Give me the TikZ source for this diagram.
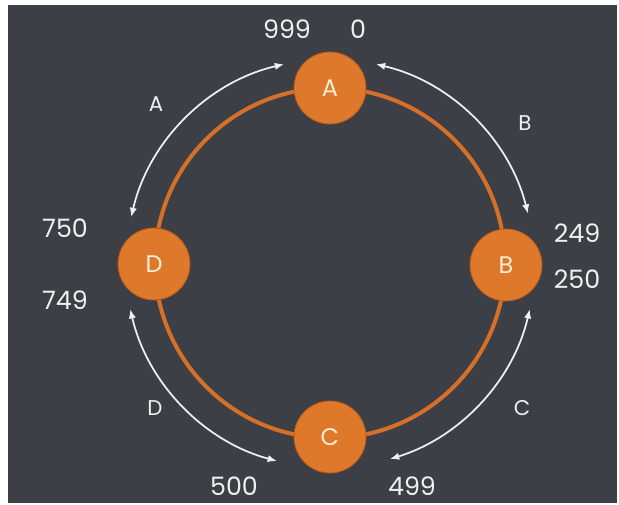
\documentclass[tikz,border=0pt]{standalone}
\usepackage{fontspec}
\setmainfont{Poppins}
\usepackage{tikz}
\usetikzlibrary{arrows.meta}
\usepackage{xcolor}

\definecolor{board}{RGB}{60,64,70}
\definecolor{chalk}{RGB}{240,240,238}
\definecolor{ringorange}{RGB}{214,112,40}
\definecolor{nodeorange}{RGB}{222,120,42}
\definecolor{nodeedge}{RGB}{180,88,28}
\definecolor{cream}{RGB}{248,236,216}

\tikzset{
  server/.style={circle,fill=nodeorange,draw=nodeedge,line width=0.6pt,minimum size=54pt,inner sep=0pt,text=cream,font=\fontsize{18}{20}\selectfont},
  ring/.style={draw=ringorange,line width=3pt},
  chalkarrow/.style={draw=chalk,line width=1.3pt,{Latex[length=7pt,width=5.5pt]}-{Latex[length=7pt,width=5.5pt]}},
  rangelabel/.style={text=chalk,inner sep=0.75pt,font=\fontsize{19}{21}\selectfont},
  arclabel/.style={text=chalk,inner sep=0.75pt,font=\fontsize{16}{18}\selectfont}
}

\begin{document}
\begin{tikzpicture}[x=0.75pt,y=0.75pt,yscale=-1,xscale=1]
\useasboundingbox (0,0) rectangle (619,505);
\fill[white] (0,0) rectangle (619,505);

%Board
\fill[board] (8,5) rectangle (617,503);

%Ring
\coordinate (ctr) at (330,263);
\draw[ring] (ctr) circle[radius=175];

%Servers
\node[server] (A) at (330,88) {A};
\node[server] (B) at (506,265) {B};
\node[server] (C) at (330,437) {C};
\node[server] (D) at (154,264) {D};

%Arc ends
\coordinate (a1) at ([shift={(-103:204)}]ctr);
\coordinate (b1) at ([shift={(-77:204)}]ctr);
\coordinate (c1) at ([shift={(13:205)}]ctr);
\coordinate (d1) at ([shift={(167:205)}]ctr);

%Ranges
\draw[chalkarrow] (a1) arc[start angle=-103, end angle=-167, radius=204];
\draw[chalkarrow] (b1) arc[start angle=-77, end angle=-14, radius=204];
\draw[chalkarrow] (c1) arc[start angle=13, end angle=73, radius=205];
\draw[chalkarrow] (d1) arc[start angle=167, end angle=105, radius=205];

%Range owners
\node[arclabel] (lA) at (156,104) {A};
\node[arclabel] (lB) at (525,123) {B};
\node[arclabel] (lC) at (522,408) {C};
\node[arclabel] (lD) at (155,408) {D};

%Hash values
\node[rangelabel] (n999) at (287,29) {999};
\node[rangelabel] (n0) at (358,29) {0};
\node[rangelabel] (n249) at (577,233) {249};
\node[rangelabel] (n250) at (577,279) {250};
\node[rangelabel] (n499) at (412,486) {499};
\node[rangelabel] (n500) at (234,486) {500};
\node[rangelabel] (n749) at (65,300) {749};
\node[rangelabel] (n750) at (65,228) {750};

\end{tikzpicture}
\end{document}
